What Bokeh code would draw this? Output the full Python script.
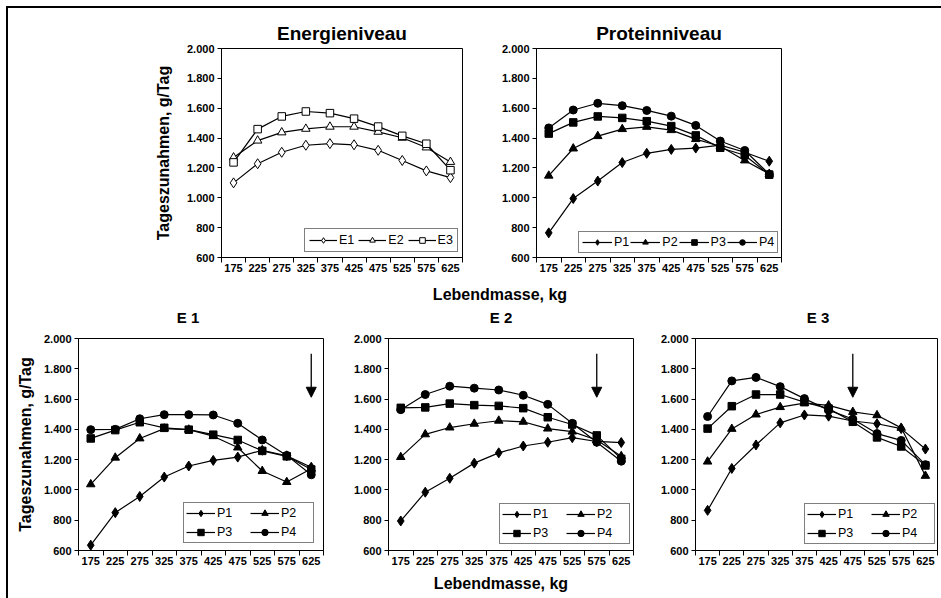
from bokeh.plotting import figure
from bokeh.layouts import row, column
from bokeh.models import (Range1d, FixedTicker, Legend, LegendItem, Arrow,
                          NormalHead, Div, Spacer)
from bokeh.embed import file_html
from bokeh.resources import INLINE

# ---- data -------------------------------------------------------------
masse = [175, 225, 275, 325, 375, 425, 475, 525, 575, 625]
klassen_grenzen = [150, 200, 250, 300, 350, 400, 450, 500, 550, 600, 650]
y_ticks = [600, 800, 1000, 1200, 1400, 1600, 1800, 2000]
y_tick_labels = ["600", "800", "1.000", "1.200", "1.400", "1.600", "1.800", "2.000"]

# Energieniveau (mean over protein levels)
e1 = [1100, 1228, 1305, 1352, 1363, 1355, 1318, 1250, 1180, 1135]
e2 = [1270, 1383, 1438, 1462, 1476, 1476, 1442, 1402, 1337, 1240]
e3 = [1237, 1460, 1545, 1578, 1567, 1530, 1477, 1415, 1362, 1185]

# Proteinniveau (mean over energy levels)
p1 = [765, 995, 1112, 1236, 1298, 1324, 1333, 1353, 1305, 1245]
p2 = [1148, 1330, 1413, 1460, 1475, 1453, 1393, 1345, 1250, 1160]
p3 = [1430, 1505, 1545, 1535, 1513, 1480, 1418, 1335, 1285, 1155]
p4 = [1468, 1588, 1633, 1617, 1585, 1547, 1485, 1380, 1317, 1158]

# E 1
e1_p1 = [635, 850, 957, 1085, 1158, 1195, 1217, 1262, 1225, 1150]
e1_p2 = [1037, 1213, 1340, 1405, 1398, 1355, 1280, 1125, 1052, 1140]
e1_p3 = [1340, 1395, 1447, 1410, 1398, 1365, 1330, 1258, 1222, 1135]
e1_p4 = [1398, 1400, 1470, 1497, 1497, 1495, 1440, 1330, 1228, 1100]

# E 2
e2_p1 = [795, 985, 1077, 1177, 1245, 1290, 1315, 1345, 1320, 1313]
e2_p2 = [1217, 1367, 1412, 1437, 1457, 1450, 1405, 1385, 1330, 1223]
e2_p3 = [1542, 1545, 1570, 1560, 1555, 1540, 1480, 1432, 1360, 1205]
e2_p4 = [1530, 1630, 1685, 1672, 1660, 1625, 1565, 1440, 1315, 1190]

# E 3
e3_p1 = [865, 1142, 1297, 1443, 1495, 1487, 1455, 1437, 1405, 1270]
e3_p2 = [1187, 1403, 1498, 1547, 1573, 1558, 1515, 1493, 1410, 1093]
e3_p3 = [1405, 1553, 1630, 1630, 1580, 1537, 1450, 1347, 1287, 1162]
e3_p4 = [1485, 1720, 1743, 1682, 1603, 1527, 1468, 1372, 1327, 1167]

# arrow marks (Lebendmasse) and their vertical extent
pfeil_x = {"E 1": 625, "E 2": 575, "E 3": 475}
pfeil_y = (1900, 1612)

FONT = "Liberation Sans"

# marker styles per series: (marker, size)
MARKERS = {
    "1": ("diamond", 10.0),
    "2": ("triangle", 8.5),
    "3": ("square", 7.5),
    "4": ("circle", 8.0),
}


def make_panel(title, series, filled, width, height, b_left, b_right, b_top,
               b_bottom, ylabel=None, ylabel_standoff=4, legend_loc=(0, 0),
               legend_cols=None, legend_style=None, arrow_x=None,
               title_standoff=8, title_size="17px"):
    p = figure(width=width, height=height, output_backend="svg",
               toolbar_location=None, x_range=Range1d(150, 650),
               y_range=Range1d(600, 2000), min_border_left=b_left,
               min_border_right=b_right, min_border_top=b_top,
               min_border_bottom=b_bottom, background_fill_color="white",
               border_fill_color="white", outline_line_color="black",
               outline_line_width=1, title=title)
    if title is not None:
        p.title.align = "center"
        p.title.text_font = FONT
        p.title.text_font_size = title_size
        p.title.text_font_style = "bold"
        p.title.text_color = "black"
        p.title.standoff = title_standoff
    p.xgrid.visible = False
    p.ygrid.visible = False

    xa = p.xaxis[0]
    xa.ticker = FixedTicker(ticks=masse, minor_ticks=klassen_grenzen)
    xa.major_tick_out = 0
    xa.major_tick_in = 0
    xa.minor_tick_out = 5
    xa.minor_tick_in = 0
    xa.minor_tick_line_color = "black"
    xa.axis_line_color = "black"
    xa.major_label_standoff = 1
    xa.major_label_text_font = FONT
    xa.major_label_text_font_style = "bold"
    xa.major_label_text_font_size = "11px"
    xa.major_label_text_color = "black"

    ya = p.yaxis[0]
    ya.ticker = FixedTicker(ticks=y_ticks, minor_ticks=[])
    ya.major_label_overrides = dict(zip(y_ticks, y_tick_labels))
    ya.major_tick_out = 4
    ya.major_tick_in = 0
    ya.major_tick_line_color = "black"
    ya.minor_tick_line_color = None
    ya.axis_line_color = "black"
    ya.major_label_standoff = 3
    ya.major_label_text_font = FONT
    ya.major_label_text_font_style = "bold"
    ya.major_label_text_font_size = "11px"
    ya.major_label_text_color = "black"
    if ylabel:
        ya.axis_label = ylabel
        ya.axis_label_text_font = FONT
        ya.axis_label_text_font_style = "bold"
        ya.axis_label_text_font_size = "16px"
        ya.axis_label_text_color = "black"
        ya.axis_label_standoff = ylabel_standoff

    items = []
    for name, values in series:
        marker, size = MARKERS[name[-1]]
        lr = p.line(masse, values, line_color="black", line_width=1.2)
        sr = p.scatter(masse, values, marker=marker, size=size,
                       line_color="black", line_width=1,
                       fill_color="black" if filled else "white")
        items.append(LegendItem(label=name, renderers=[lr, sr]))

    st = dict(glyph_width=28, glyph_height=14, label_height=14, label_width=14,
              label_standoff=2, spacing=3, padding=3)
    if legend_style:
        st.update(legend_style)
    kw = dict(items=items, location=legend_loc, orientation="horizontal",
              border_line_color="black", border_line_width=1,
              background_fill_color="white", background_fill_alpha=1.0,
              label_text_font=FONT, label_text_font_size="12.5px",
              label_text_color="black", margin=0, **st)
    if legend_cols:
        kw["ncols"] = legend_cols
    p.add_layout(Legend(**kw))

    if arrow_x is not None:
        p.add_layout(Arrow(end=NormalHead(size=10, fill_color="black",
                                          line_color="black"),
                           x_start=arrow_x, y_start=pfeil_y[0],
                           x_end=arrow_x, y_end=pfeil_y[1],
                           line_color="black", line_width=1.3))
    return p


TOP_T, TOP_B = 40, 24
TOP_H = TOP_T + 209 + TOP_B
p_energie = make_panel("Energieniveau",
                       [("E1", e1), ("E2", e2), ("E3", e3)], False,
                       width=464, height=TOP_H, b_left=213, b_right=10,
                       b_top=TOP_T, b_bottom=TOP_B,
                       ylabel="Tageszunahmen, g/Tag", ylabel_standoff=12,
                       legend_loc=(83, 5), title_standoff=10,
                       title_size="19px",
                       legend_style=dict(glyph_width=28, spacing=4, padding=4))
p_protein = make_panel("Proteinniveau",
                       [("P1", p1), ("P2", p2), ("P3", p3), ("P4", p4)], True,
                       width=329, height=TOP_H, b_left=64, b_right=20,
                       b_top=TOP_T, b_bottom=TOP_B, legend_loc=(42, 4),
                       title_standoff=10, title_size="19px",
                       legend_style=dict(glyph_width=30, spacing=1, padding=3))

BOT_T, BOT_B = 8, 25
BOT_H = BOT_T + 212 + BOT_B
bottom_style = dict(glyph_width=29, glyph_height=16, label_height=16,
                    label_width=30, label_standoff=2, spacing=3, padding=2)


def e_panel(key, data, width, b_left, b_right, ylabel=None, loc=(0, 0)):
    return make_panel(None, [("P1", data[0]), ("P2", data[1]),
                             ("P3", data[2]), ("P4", data[3])], True,
                      width=width, height=BOT_H, b_left=b_left,
                      b_right=b_right, b_top=BOT_T, b_bottom=BOT_B,
                      ylabel=ylabel, ylabel_standoff=7, legend_loc=loc,
                      legend_cols=2, legend_style=bottom_style,
                      arrow_x=pfeil_x[key])


p_e1 = e_panel("E 1", [e1_p1, e1_p2, e1_p3, e1_p4], 325, 70, 10,
               ylabel="Tageszunahmen, g/Tag", loc=(105, 7))
p_e2 = e_panel("E 2", [e2_p1, e2_p2, e2_p3, e2_p4], 310, 55, 10, loc=(111, 6))
p_e3 = e_panel("E 3", [e3_p1, e3_p2, e3_p3, e3_p4], 298, 52, 4, loc=(109, 6))


def text_at(text, cx, top, size, line_h, w):
    return ('<div style="position:absolute;left:%dpx;top:%dpx;width:%dpx;'
            'text-align:center;font-size:%dpx;line-height:%dpx">%s</div>'
            % (cx - w // 2, top, w, size, line_h, text))


# band between the rows: shared x label of the upper charts and the
# titles of the lower charts
BAND_W, BAND_H = 933, 49
band_html = ('<div style="position:relative;width:%dpx;height:%dpx;'
             'font-family:%s;font-weight:bold;color:black">' % (BAND_W, BAND_H, FONT)
             + text_at("Lebendmasse, kg", 492, 4, 16, 20, 300)
             + text_at("E 1", 180, 28, 15, 18, 100)
             + text_at("E 2", 493, 28, 15, 18, 100)
             + text_at("E 3", 810, 28, 15, 18, 100)
             + '</div>')
band = Div(text=band_html, width=BAND_W, height=BAND_H, margin=0)

bottom_html = ('<div style="position:relative;width:%dpx;height:23px;'
               'font-family:%s;font-weight:bold;color:black">' % (BAND_W, FONT)
               + text_at("Lebendmasse, kg", 493, 0, 16, 18, 300)
               + '</div>')
bottom_label = Div(text=bottom_html, width=BAND_W, height=23, margin=0)

layout = column(
    row(p_energie, p_protein),
    band,
    row(p_e1, p_e2, p_e3),
    bottom_label,
    margin=(6, 0, 0, 6),
    styles={"border-top": "2px solid black", "border-left": "2px solid black"},
)

open("out.html", "w").write(file_html(layout, INLINE, "Tageszunahmen"))
